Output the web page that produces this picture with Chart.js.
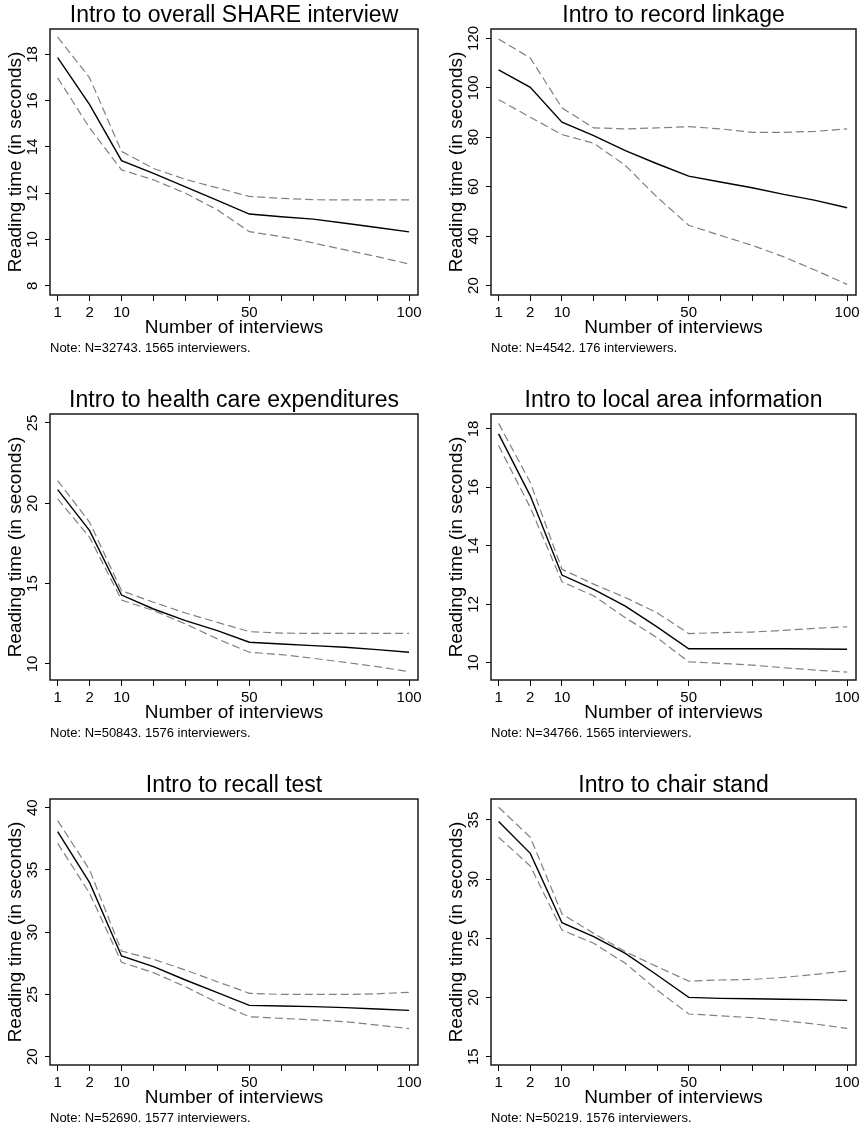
<!DOCTYPE html>
<html>
<head>
<meta charset="utf-8">
<script src="https://cdn.jsdelivr.net/npm/chart.js@4.4.1/dist/chart.umd.min.js"></script>
<style>
  body { margin: 0; background: #fff; }
  .panel { position: absolute; width: 433px; height: 385px; }
</style>
</head>
<body>
<div class="panel" style="left:0;top:0"><canvas id="p0"></canvas></div>
<div class="panel" style="left:433px;top:0"><canvas id="p1"></canvas></div>
<div class="panel" style="left:0;top:385px"><canvas id="p2"></canvas></div>
<div class="panel" style="left:433px;top:385px"><canvas id="p3"></canvas></div>
<div class="panel" style="left:0;top:770px"><canvas id="p4"></canvas></div>
<div class="panel" style="left:433px;top:770px"><canvas id="p5"></canvas></div>
<script>
// x categories: number of interviews (evenly spaced on the axis)
const interviews = [1, 2, 10, 20, 30, 40, 50, 60, 70, 80, 90, 100];
const labelledInterviews = [1, 2, 10, 50, 100];

// Intro to overall SHARE interview
const shareMean = [17.86, 15.83, 13.41, 12.86, 12.27, 11.69, 11.1, 10.98, 10.88, 10.7, 10.52, 10.33];
const shareUpper = [18.75, 16.99, 13.81, 13.07, 12.6, 12.23, 11.86, 11.78, 11.72, 11.71, 11.71, 11.71];
const shareLower = [16.99, 14.82, 13.01, 12.58, 12.0, 11.28, 10.34, 10.12, 9.85, 9.55, 9.26, 8.94];
const shareTicks = [8, 10, 12, 14, 16, 18];

// Intro to record linkage
const linkMean = [107.3, 100.2, 86.1, 80.7, 74.6, 69.3, 64.3, 61.9, 59.6, 56.9, 54.5, 51.5];
const linkUpper = [119.7, 112.1, 91.9, 83.8, 83.4, 83.8, 84.3, 83.4, 82.0, 82.0, 82.4, 83.4];
const linkLower = [95.2, 88.1, 81.1, 77.6, 68.6, 55.8, 44.4, 40.3, 36.3, 31.6, 26.2, 20.5];
const linkTicks = [20, 40, 60, 80, 100, 120];

// Intro to health care expenditures
const healthMean = [20.85, 18.3, 14.29, 13.42, 12.7, 12.07, 11.35, 11.24, 11.14, 11.04, 10.89, 10.73];
const healthUpper = [21.41, 18.82, 14.56, 13.84, 13.17, 12.59, 12.01, 11.92, 11.9, 11.9, 11.9, 11.9];
const healthLower = [20.27, 17.88, 13.98, 13.32, 12.49, 11.56, 10.73, 10.58, 10.35, 10.1, 9.83, 9.52];
const healthTicks = [10, 15, 20, 25];

// Intro to local area information
const areaMean = [17.83, 15.71, 13.0, 12.51, 11.94, 11.23, 10.48, 10.48, 10.48, 10.48, 10.47, 10.46];
const areaUpper = [18.19, 16.17, 13.2, 12.69, 12.23, 11.71, 11.0, 11.03, 11.05, 11.11, 11.18, 11.23];
const areaLower = [17.43, 15.31, 12.77, 12.29, 11.54, 10.86, 10.03, 9.98, 9.92, 9.83, 9.75, 9.68];
const areaTicks = [10, 12, 14, 16, 18];

// Intro to recall test
const recallMean = [38.07, 33.98, 28.09, 27.23, 26.16, 25.14, 24.12, 24.07, 24.02, 23.94, 23.83, 23.72];
const recallUpper = [38.96, 35.0, 28.49, 27.82, 26.96, 26.02, 25.09, 25.0, 25.0, 25.0, 25.05, 25.17];
const recallLower = [37.14, 33.12, 27.58, 26.75, 25.62, 24.34, 23.21, 23.08, 22.95, 22.81, 22.54, 22.25];
const recallTicks = [20, 25, 30, 35, 40];

// Intro to chair stand
const chairMean = [34.86, 32.18, 26.32, 25.14, 23.73, 21.9, 20.01, 19.93, 19.9, 19.85, 19.82, 19.76];
const chairUpper = [36.07, 33.54, 27.06, 25.42, 23.87, 22.61, 21.39, 21.48, 21.53, 21.7, 21.96, 22.24];
const chairLower = [33.54, 31.11, 25.7, 24.58, 22.89, 20.63, 18.61, 18.46, 18.3, 18.04, 17.76, 17.39];
const chairTicks = [15, 20, 25, 30, 35];

const FONT = "'Liberation Sans', Arial, Helvetica, sans-serif";

const panels = [
  { id: "p0", title: "Intro to overall SHARE interview", note: "Note: N=32743. 1565 interviewers.",
    mean: shareMean, upper: shareUpper, lower: shareLower, ticks: shareTicks, min: 7.6, max: 19.1, right: false },
  { id: "p1", title: "Intro to record linkage", note: "Note: N=4542. 176 interviewers.",
    mean: linkMean, upper: linkUpper, lower: linkLower, ticks: linkTicks, min: 16.2, max: 123.8, right: true },
  { id: "p2", title: "Intro to health care expenditures", note: "Note: N=50843. 1576 interviewers.",
    mean: healthMean, upper: healthUpper, lower: healthLower, ticks: healthTicks, min: 9.0, max: 25.56, right: false },
  { id: "p3", title: "Intro to local area information", note: "Note: N=34766. 1565 interviewers.",
    mean: areaMean, upper: areaUpper, lower: areaLower, ticks: areaTicks, min: 9.41, max: 18.51, right: true },
  { id: "p4", title: "Intro to recall test", note: "Note: N=52690. 1577 interviewers.",
    mean: recallMean, upper: recallUpper, lower: recallLower, ticks: recallTicks, min: 19.33, max: 40.7, right: false },
  { id: "p5", title: "Intro to chair stand", note: "Note: N=50219. 1576 interviewers.",
    mean: chairMean, upper: chairUpper, lower: chairLower, ticks: chairTicks, min: 14.3, max: 36.77, right: true },
];

// box around plot region + title above + note below
const framePlugin = {
  id: "frame",
  afterDraw(chart, args, opts) {
    const { ctx, chartArea: a } = chart;
    ctx.save();
    ctx.strokeStyle = "#1a1a1a";
    ctx.lineWidth = 1.5;
    ctx.strokeRect(a.left, a.top, a.right - a.left, a.bottom - a.top);
    ctx.fillStyle = "#000";
    ctx.textAlign = "center";
    ctx.textBaseline = "alphabetic";
    ctx.font = "23px " + FONT;
    ctx.fillText(opts.title, (a.left + a.right) / 2, a.top - 7);
    ctx.textAlign = "left";
    ctx.font = "13px " + FONT;
    ctx.fillText(opts.note, a.left, a.bottom + 57);
    ctx.restore();
  },
};

function toPoints(arr) {
  return arr.map((v, i) => ({ x: i, y: v }));
}

panels.forEach(function (p) {
  const ctx = document.getElementById(p.id).getContext("2d");
  const widest = Math.max.apply(null, p.ticks.map((t) => String(t).length));
  new Chart(ctx, {
    type: "line",
    data: {
      datasets: [
        {
          data: toPoints(p.upper),
          borderColor: "#808080",
          borderWidth: 1.2,
          borderDash: [8, 4],
          pointRadius: 0,
        },
        {
          data: toPoints(p.lower),
          borderColor: "#808080",
          borderWidth: 1.2,
          borderDash: [8, 4],
          pointRadius: 0,
        },
        {
          data: toPoints(p.mean),
          borderColor: "#000",
          borderWidth: 1.4,
          pointRadius: 0,
        },
      ],
    },
    options: {
      responsive: true,
      maintainAspectRatio: false,
      animation: false,
      events: [],
      layout: {
        padding: { top: 29, bottom: 45, left: p.right ? 11 : 3, right: p.right ? 10 : 15 },
      },
      scales: {
        x: {
          type: "linear",
          min: -0.24,
          max: 11.28,
          afterBuildTicks: function (scale) {
            scale.ticks = interviews.map((n, i) => ({ value: i }));
          },
          afterFit: function (scale) {
            scale.height = 45;
          },
          border: { display: false },
          grid: { drawOnChartArea: false, drawTicks: true, tickLength: 6, tickColor: "#000", tickWidth: 1 },
          ticks: {
            autoSkip: false,
            maxRotation: 0,
            padding: 3,
            color: "#000",
            font: { family: FONT, size: 15 },
            callback: function (value) {
              const n = interviews[value];
              return labelledInterviews.includes(n) ? String(n) : "";
            },
          },
          title: {
            display: true,
            text: "Number of interviews",
            color: "#000",
            font: { family: FONT, size: 19 },
            padding: { top: 0, bottom: 1 },
          },
        },
        y: {
          min: p.min,
          max: p.max,
          afterBuildTicks: function (scale) {
            scale.ticks = p.ticks.map((v) => ({ value: v }));
          },
          afterFit: function (scale) {
            scale.width = 47;
          },
          border: { display: false },
          grid: { drawOnChartArea: false, drawTicks: true, tickLength: 5, tickColor: "#000", tickWidth: 1 },
          ticks: {
            minRotation: 90,
            maxRotation: 90,
            crossAlign: "center",
            padding: widest > 2 ? 0 : 4,
            color: "#000",
            font: { family: FONT, size: 15, lineHeight: 1 },
          },
          title: {
            display: true,
            text: "Reading time (in seconds)",
            color: "#000",
            font: { family: FONT, size: 19 },
            padding: { top: 1, bottom: 0 },
          },
        },
      },
      plugins: {
        legend: { display: false },
        tooltip: { enabled: false },
        frame: { title: p.title, note: p.note },
      },
    },
    plugins: [framePlugin],
  });
});
</script>
</body>
</html>
